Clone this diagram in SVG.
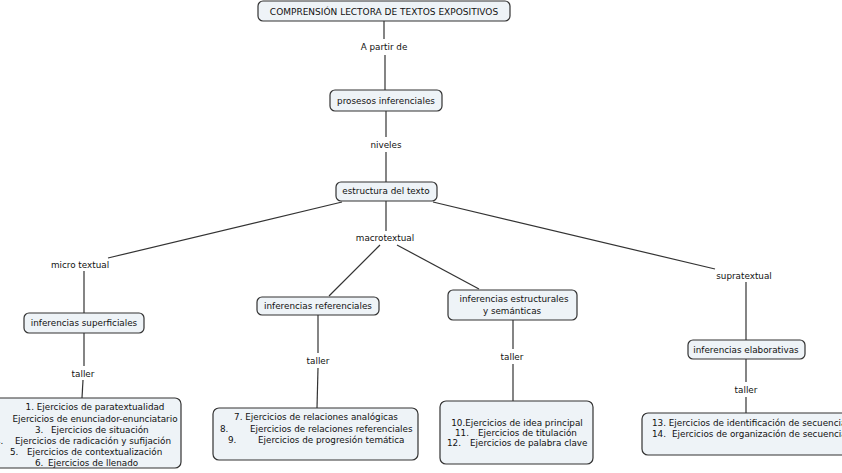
<svg xmlns="http://www.w3.org/2000/svg" width="842" height="473" viewBox="0 0 842 473">
<style>
.bg{fill:#ffffff}
.node rect{fill:#eef3f7;stroke:#333333;stroke-width:1.2}
text{font-family:"DejaVu Sans",Verdana,sans-serif;font-size:8.8px;fill:#111111}
.c{text-anchor:middle}
#connectors line{stroke:#333333;stroke-width:1.2}
</style>
<rect class="bg" x="0" y="0" width="842" height="473"/>
<g id="connectors">
<line x1="384" y1="21" x2="384" y2="39"/>
<line x1="385" y1="55" x2="385" y2="90"/>
<line x1="386" y1="111" x2="386" y2="137"/>
<line x1="386" y1="152" x2="386" y2="182"/>
<line x1="342" y1="202" x2="108" y2="258"/>
<line x1="386" y1="201" x2="386" y2="231"/>
<line x1="433" y1="202" x2="715" y2="269"/>
<line x1="380" y1="245" x2="329" y2="296"/>
<line x1="397" y1="245" x2="479" y2="289"/>
<line x1="84" y1="271" x2="84" y2="313"/>
<line x1="84" y1="333" x2="84" y2="366"/>
<line x1="83" y1="380" x2="82" y2="398"/>
<line x1="318" y1="315" x2="318" y2="353"/>
<line x1="318" y1="368" x2="317" y2="408"/>
<line x1="513" y1="320" x2="513" y2="349"/>
<line x1="513" y1="364" x2="513" y2="401"/>
<line x1="746" y1="282" x2="746" y2="340"/>
<line x1="746" y1="359" x2="746" y2="382"/>
<line x1="746" y1="397" x2="746" y2="413"/>
</g>
<g id="n-title" class="node"><rect x="258" y="1" width="252" height="20" rx="5"/><text class="c" x="384" y="15" style="font-size:9px">COMPRENSIÓN LECTORA DE TEXTOS EXPOSITIVOS</text></g>
<g id="l-apartir"><text class="c" x="384" y="50">A partir de</text></g>
<g id="n-prosesos" class="node"><rect x="330" y="90" width="112" height="21" rx="5"/><text class="c" x="386" y="104">prosesos inferenciales</text></g>
<g id="l-niveles"><text class="c" x="386" y="148">niveles</text></g>
<g id="n-estructura" class="node"><rect x="336" y="182" width="101" height="19" rx="5"/><text class="c" x="386" y="194">estructura del texto</text></g>
<g id="l-macro"><text class="c" x="385" y="241">macrotextual</text></g>
<g id="l-micro"><text class="c" x="80" y="268">micro textual</text></g>
<g id="l-supra"><text class="c" x="744" y="279">supratextual</text></g>
<g id="n-superficiales" class="node"><rect x="24" y="313" width="120" height="20" rx="5"/><text class="c" x="84" y="326">inferencias superficiales</text></g>
<g id="n-referenciales" class="node"><rect x="257" y="297" width="122" height="18" rx="5"/><text class="c" x="318" y="309">inferencias referenciales</text></g>
<g id="n-estructurales" class="node"><rect x="448" y="290" width="129" height="30" rx="5"/><text class="c" x="514" y="302">inferencias estructurales</text><text class="c" x="512" y="314">y semánticas</text></g>
<g id="n-elaborativas" class="node"><rect x="688" y="340" width="117" height="19" rx="5"/><text class="c" x="746" y="353">inferencias elaborativas</text></g>
<g id="l-taller1"><text class="c" x="83" y="377">taller</text></g>
<g id="l-taller2"><text class="c" x="318" y="364">taller</text></g>
<g id="l-taller3"><text class="c" x="512" y="360">taller</text></g>
<g id="l-taller4"><text class="c" x="746" y="393">taller</text></g>
<g id="n-ej1" class="node"><rect x="-10" y="398" width="191" height="70" rx="6"/>
<text class="c" x="95" y="410">1. Ejercicios de paratextualidad</text>
<text class="c" x="95" y="422">Ejercicios de enunciador-enunciatario</text>
<text x="35" y="433">3.<tspan x="51">Ejercicios de situación</tspan></text>
<text x="-5" y="444">4.<tspan x="15">Ejercicios de radicación y sufijación</tspan></text>
<text x="10" y="455">5.<tspan x="27">Ejercicios de contextualización</tspan></text>
<text x="35" y="466">6.<tspan x="48">Ejercicios de llenado</tspan></text>
</g>
<g id="n-ej2" class="node"><rect x="213" y="408" width="205" height="52" rx="6"/>
<text class="c" x="316" y="420">7. Ejercicios de relaciones analógicas</text>
<text x="220" y="432">8.<tspan x="250">Ejercicios de relaciones referenciales</tspan></text>
<text x="228" y="443">9.<tspan x="258">Ejercicios de progresión temática</tspan></text>
</g>
<g id="n-ej3" class="node"><rect x="440" y="401" width="153" height="63" rx="6"/>
<text class="c" x="517" y="426">10.Ejercicios de idea principal</text>
<text x="455" y="436">11.<tspan x="478">Ejercicios de titulación</tspan></text>
<text x="447" y="446">12.<tspan x="470">Ejercicios de palabra clave</tspan></text>
</g>
<g id="n-ej4" class="node"><rect x="642" y="413" width="220" height="42" rx="6"/>
<text x="652" y="426">13. Ejercicios de identificación de secuencias</text>
<text x="652" y="437">14.<tspan x="672">Ejercicios de organización de secuencias</tspan></text>
</g>
</svg>
